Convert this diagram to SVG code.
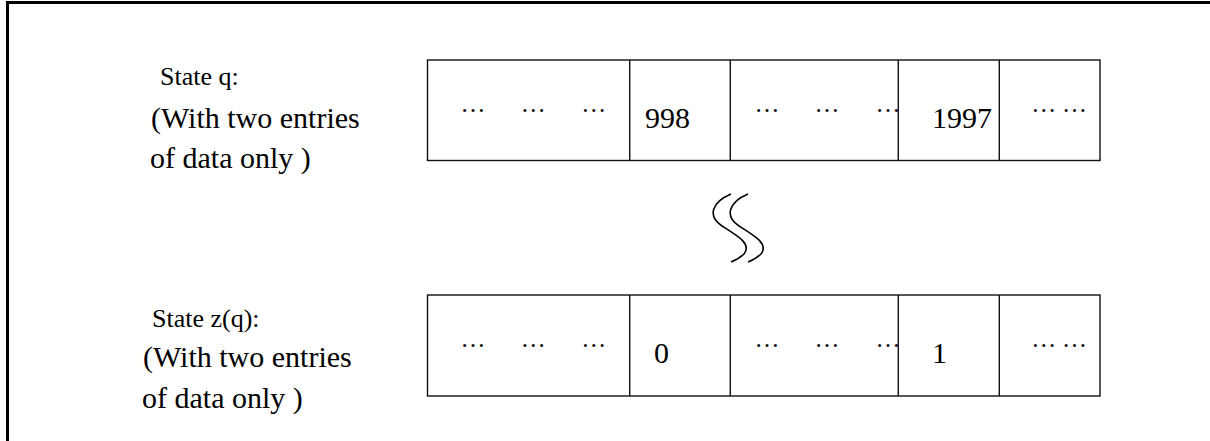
<svg xmlns="http://www.w3.org/2000/svg" width="1210" height="441" viewBox="0 0 1210 441">
<style>
.t{font-family:"Liberation Serif","Times New Roman",serif;fill:#000}
.lbl1{font-size:26px}
.lbl{font-size:30px}
.val{font-size:30px}
.dots{font-size:25px;text-anchor:middle}
.box{fill:#fff;stroke:#111;stroke-width:1.4}
.div{stroke:#111;stroke-width:1.4}
.sq{fill:none;stroke:#000;stroke-width:1.6}
</style>
<rect width="1210" height="441" fill="#fff"/>
<path d="M7.5,441 V2.5 H1210" fill="none" stroke="#000" stroke-width="3"/>

<g id="label-q">
<text class="t lbl1" x="160" y="85">State q:</text>
<text class="t lbl" x="151" y="128">(With two entries</text>
<text class="t lbl" x="150" y="168">of data only )</text>
</g>

<g id="row-q">
<rect class="box" x="427.5" y="60" width="672.5" height="100.5"/>
<line class="div" x1="629.7" y1="60" x2="629.7" y2="160.5"/>
<line class="div" x1="730.3" y1="60" x2="730.3" y2="160.5"/>
<line class="div" x1="898.3" y1="60" x2="898.3" y2="160.5"/>
<line class="div" x1="999.3" y1="60" x2="999.3" y2="160.5"/>
<text class="t dots" x="473" y="111.5">…</text>
<text class="t dots" x="533.3" y="111.5">…</text>
<text class="t dots" x="593.7" y="111.5">…</text>
<text class="t val" x="645" y="128.3">998</text>
<text class="t dots" x="767" y="111.5">…</text>
<text class="t dots" x="827" y="111.5">…</text>
<text class="t dots" x="888" y="111.5">…</text>
<text class="t val" x="932" y="127.5">1997</text>
<text class="t dots" x="1043.8" y="111.5">…</text>
<text class="t dots" x="1074.5" y="111.5">…</text>
</g>

<g id="connectors">
<path class="sq" d="M731,194 C712,202 707,216 722,226 C738,236 752,244 744,254 C740,258 736,260 731,262"/>
<path class="sq" d="M748,194 C729,202 724,216 739,226 C755,236 769,244 761,254 C757,258 753,260 748,262"/>
</g>

<g id="label-zq">
<text class="t lbl1" x="152" y="327">State z(q):</text>
<text class="t lbl" x="143" y="367">(With two entries</text>
<text class="t lbl" x="142" y="408">of data only )</text>
</g>

<g id="row-zq">
<rect class="box" x="427.5" y="295" width="672.5" height="101"/>
<line class="div" x1="629.7" y1="295" x2="629.7" y2="396"/>
<line class="div" x1="730.3" y1="295" x2="730.3" y2="396"/>
<line class="div" x1="898.3" y1="295" x2="898.3" y2="396"/>
<line class="div" x1="999.3" y1="295" x2="999.3" y2="396"/>
<text class="t dots" x="473" y="346.5">…</text>
<text class="t dots" x="533.3" y="346.5">…</text>
<text class="t dots" x="593.7" y="346.5">…</text>
<text class="t val" x="654" y="363.3">0</text>
<text class="t dots" x="767" y="346.5">…</text>
<text class="t dots" x="827" y="346.5">…</text>
<text class="t dots" x="888" y="346.5">…</text>
<text class="t val" x="932" y="363">1</text>
<text class="t dots" x="1043.8" y="346.5">…</text>
<text class="t dots" x="1074.5" y="346.5">…</text>
</g>
</svg>
